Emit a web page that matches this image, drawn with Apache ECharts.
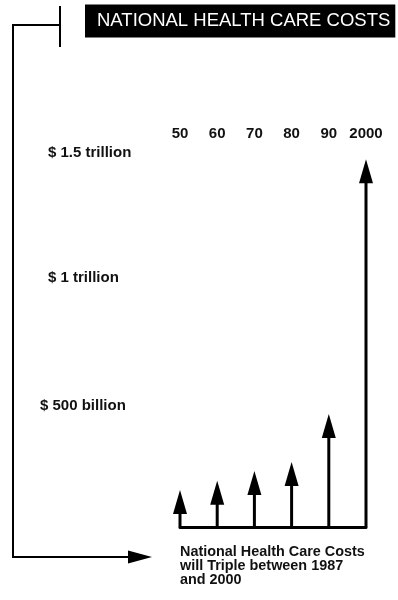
<!DOCTYPE html>
<html>
<head>
<meta charset="utf-8">
<script src="https://cdn.jsdelivr.net/npm/echarts@6/dist/echarts.min.js"></script>
<style>
  html, body { margin: 0; padding: 0; background: #fff; }
  #chart { width: 398px; height: 600px; }
</style>
</head>
<body>
<div id="chart"></div>
<script>
// Decade labels and national health care spending (billions of dollars)
const years = ['50', '60', '70', '80', '90', '2000'];
const costs = [148, 185, 225, 261, 453, 1475];

// Value-axis tick labels
const yTickValues = [500, 1000, 1500];
const yTickLabels = ['$ 500 billion', '$ 1 trillion', '$ 1.5 trillion'];

const titleText = 'NATIONAL HEALTH CARE COSTS';
const noteLines = ['National Health Care Costs', 'will Triple between 1987', 'and 2000'];

const FONT = '"Liberation Sans", Arial, Helvetica, sans-serif';
const chart = echarts.init(document.getElementById('chart'), null, { renderer: 'canvas' });

// Each decade is drawn as an arrow rising from the baseline to its value
function renderArrow(params, api) {
  const base = api.coord([api.value(0), 0]);
  const tip = api.coord([api.value(0), api.value(1)]);
  const headH = 24, headW = 14;
  return {
    type: 'group',
    children: [
      {
        type: 'line',
        shape: { x1: base[0], y1: base[1], x2: tip[0], y2: tip[1] + headH - 2 },
        style: { stroke: '#000', lineWidth: 3 }
      },
      {
        type: 'polygon',
        shape: { points: [[tip[0], tip[1]], [tip[0] - headW / 2, tip[1] + headH], [tip[0] + headW / 2, tip[1] + headH]] },
        style: { fill: '#000' }
      }
    ]
  };
}

chart.setOption({
  backgroundColor: '#fff',
  animation: false,
  title: {
    text: titleText,
    left: 85,
    top: 5,
    padding: [7, 5, 7, 12],
    backgroundColor: '#000',
    textStyle: { color: '#fff', fontFamily: FONT, fontSize: 18.5, fontWeight: 'normal', lineHeight: 18 }
  },
  grid: { left: 180, right: 32, top: 153, bottom: 73 },
  xAxis: [
    {
      type: 'category',
      data: years,
      boundaryGap: false,
      position: 'bottom',
      axisLine: { show: true, lineStyle: { color: '#000', width: 3 } },
      axisTick: { show: false },
      axisLabel: { show: false },
      splitLine: { show: false }
    },
    {
      type: 'category',
      data: years,
      boundaryGap: false,
      position: 'top',
      axisLine: { show: false },
      axisTick: { show: false },
      axisLabel: {
        show: true, interval: 0, margin: 12, color: '#111',
        fontFamily: FONT, fontWeight: 'bold', fontSize: 15,
        showMinLabel: true, showMaxLabel: true
      },
      splitLine: { show: false }
    }
  ],
  yAxis: {
    type: 'value',
    min: 0,
    max: 1500,
    interval: 500,
    axisLine: { show: false },
    axisTick: { show: false },
    splitLine: { show: false },
    axisLabel: {
      show: true,
      align: 'left',
      margin: 140,
      color: '#111',
      fontFamily: FONT,
      fontWeight: 'bold',
      fontSize: 15,
      formatter: function (v) {
        const i = yTickValues.indexOf(v);
        if (i < 0) return '';
        return v >= 1000 ? '{t|' + yTickLabels[i] + '}' : '{b|' + yTickLabels[i] + '}';
      },
      rich: {
        t: { fontFamily: FONT, fontWeight: 'bold', fontSize: 15, color: '#111', padding: [0, 0, 0, 8] },
        b: { fontFamily: FONT, fontWeight: 'bold', fontSize: 15, color: '#111', padding: [8, 0, 0, 0] }
      }
    }
  },
  series: [
    {
      type: 'custom',
      xAxisIndex: 0,
      yAxisIndex: 0,
      renderItem: renderArrow,
      data: years.map((y, i) => [i, costs[i]])
    }
  ],
  graphic: [
    // bracket leading from the title down to the note
    { type: 'line', shape: { x1: 60, y1: 6, x2: 60, y2: 47 }, style: { stroke: '#000', lineWidth: 2 } },
    { type: 'polyline', shape: { points: [[60, 25], [13, 25], [13, 557], [132, 557]] }, style: { stroke: '#000', lineWidth: 2, fill: null } },
    { type: 'polygon', shape: { points: [[128, 550.5], [152, 557], [128, 563.5]] }, style: { fill: '#000' } },
    {
      type: 'text',
      left: 180,
      top: 545,
      style: {
        text: noteLines.join('\n'),
        fill: '#111',
        font: 'bold 14.4px ' + FONT,
        lineHeight: 14
      }
    }
  ]
});
</script>
</body>
</html>
